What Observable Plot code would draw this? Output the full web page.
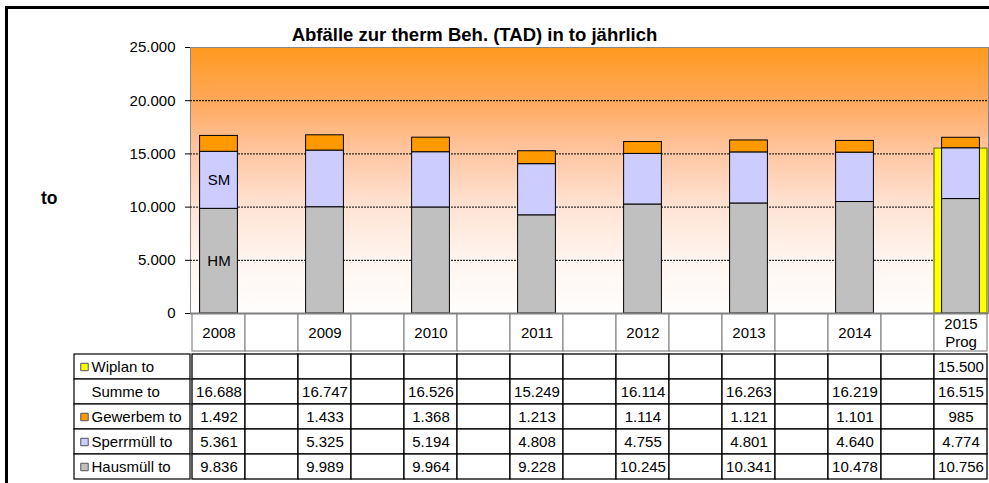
<!DOCTYPE html>
<html>
<head>
<meta charset="utf-8">
<script src="https://cdn.jsdelivr.net/npm/d3@7"></script>
<script src="https://cdn.jsdelivr.net/npm/@observablehq/plot@0.6"></script>
<style>
html, body { margin: 0; padding: 0; width: 989px; height: 483px; overflow: hidden; background: #fff;
  font-family: "Liberation Sans", Arial, Helvetica, sans-serif; }
#wrap { position: relative; width: 989px; height: 483px; overflow: hidden; }
.abs { position: absolute; }
#border { position: absolute; left: 5px; top: 6px; width: 1200px; height: 800px; border: 3px solid #000; z-index: 10; pointer-events: none; }
#title { position: absolute; left: 0; width: 949px; top: 26px; text-align: center; font-weight: bold; font-size: 18.5px; line-height: 18.5px; white-space: nowrap; z-index: 5; }
#ylabel { position: absolute; left: 41px; top: 190px; font-weight: bold; font-size: 17.5px; line-height: 17.5px; z-index: 5; }
</style>
</head>
<body>
<div id="wrap">
  <div id="title">Abfälle zur therm Beh. (TAD) in to jährlich</div>
  <div id="ylabel">to</div>
  <div id="border"></div>
</div>
<script>
// ---- data ----
const years = ["2008", "2009", "2010", "2011", "2012", "2013", "2014", "2015 Prog"];
const gapKeys = ["_1", "_2", "_3", "_4", "_5", "_6", "_7"];
const hausmuell = [9836, 9989, 9964, 9228, 10245, 10341, 10478, 10756];
const sperrmuell = [5361, 5325, 5194, 4808, 4755, 4801, 4640, 4774];
const gewerbem = [1492, 1433, 1368, 1213, 1114, 1121, 1101, 985];
const summe = [16688, 16747, 16526, 15249, 16114, 16263, 16219, 16515];
const wiplan = [null, null, null, null, null, null, null, 15500];
const seriesNames = ["Hausmüll", "Sperrmüll", "Gewerbem"];
const seriesColors = ["#c0c0c0", "#ccccff", "#ff9900"];
const wiplanColor = "#ffff00";
const rowNames = ["Wiplan to", "Summe to", "Gewerbem to", "Sperrmüll to", "Hausmüll to"];
const barLabelNames = ["HM", "SM"];

// ---- derived ----
const categories = [];
years.forEach((y, i) => { categories.push(y); if (i < gapKeys.length) categories.push(gapKeys[i]); });
const headerLabel = d => d.startsWith("_") ? "" : d.replace(" ", "\n");
const de = d3.formatLocale({decimal: ",", thousands: ".", grouping: [3], currency: ["", "€"]});
const fmt = de.format(",d");

const stackRows = [];
years.forEach((y, i) => {
  stackRows.push({cat: y, series: "Hausmüll", value: hausmuell[i]});
  stackRows.push({cat: y, series: "Sperrmüll", value: sperrmuell[i]});
  stackRows.push({cat: y, series: "Gewerbem", value: gewerbem[i]});
});
const wiplanRows = years.map((y, i) => ({cat: y, value: wiplan[i]})).filter(d => d.value != null);
const barLabels = [
  {cat: years[0], label: barLabelNames[0], y: hausmuell[0] / 2},
  {cat: years[0], label: barLabelNames[1], y: hausmuell[0] + sperrmuell[0] / 2}
];
const rowSeries = {
  "Wiplan to": wiplan, "Summe to": summe, "Gewerbem to": gewerbem,
  "Sperrmüll to": sperrmuell, "Hausmüll to": hausmuell
};
const rowColors = {"Wiplan to": wiplanColor, "Gewerbem to": seriesColors[2], "Sperrmüll to": seriesColors[1], "Hausmüll to": seriesColors[0]};
const tableCells = [];
categories.forEach(c => {
  const yi = years.indexOf(c);
  rowNames.forEach(r => tableCells.push({cat: c, row: r, value: yi >= 0 ? rowSeries[r][yi] : null}));
});

const FONT = "'Liberation Sans', Arial, Helvetica, sans-serif";
const wrap = document.getElementById("wrap");
function place(el, left, top, z) {
  el.style.position = "absolute"; el.style.left = left + "px"; el.style.top = top + "px"; el.style.zIndex = z || 1;
  wrap.appendChild(el);
}

// ---- chart ----
const chart = Plot.plot({
  width: 989, height: 314,
  marginLeft: 190, marginRight: 1, marginTop: 47, marginBottom: 1,
  style: {fontFamily: FONT, fontSize: "15px", color: "#000", background: "transparent", overflow: "visible"},
  x: {type: "band", domain: categories, padding: 0, axis: null},
  y: {domain: [0, 25000], ticks: 5, tickFormat: fmt, tickSize: 5, tickPadding: 10, label: null, grid: false},
  color: {domain: seriesNames, range: seriesColors},
  marks: [
    Plot.frame({fill: "url(#bggrad)", stroke: "#888"}),
    Plot.ruleY(d3.ticks(5000, 20000, 3), {stroke: "#000", strokeDasharray: "2,1", strokeWidth: 1}),
    Plot.barY(wiplanRows, {x: "cat", y: "value", fill: wiplanColor, stroke: "#7a7a00", strokeWidth: 1.2}),
    Plot.barY(stackRows, {x: "cat", y: "value", fill: "series", order: seriesNames, stroke: "#000", strokeWidth: 1, insetLeft: 7.6, insetRight: 7.6}),
    Plot.text(barLabels, {x: "cat", y: "y", text: "label", fill: "#000", fontSize: 15}),
    Plot.ruleY([0], {stroke: "#808080", strokeWidth: 2})
  ]
});
const svgSel = d3.select(chart.tagName.toLowerCase() === "svg" ? chart : chart.querySelector("svg"));
const grad = svgSel.insert("defs", ":first-child").append("linearGradient")
  .attr("id", "bggrad").attr("x1", 0).attr("y1", 0).attr("x2", 0).attr("y2", 1);
[[0, "#ff9a1e"], [0.2, "#ffa85c"], [0.4, "#ffc7a4"], [0.6, "#ffe3d4"], [0.8, "#fff5ef"], [1, "#fffefd"]]
  .forEach(([o, c]) => grad.append("stop").attr("offset", o).attr("stop-color", c));
place(chart, 0, 0, 2);

// ---- header row (category axis) ----
const header = Plot.plot({
  width: 989, height: 40,
  marginLeft: 190, marginRight: 1, marginTop: 0, marginBottom: 1,
  style: {fontFamily: FONT, fontSize: "15px", color: "#000", background: "transparent", overflow: "visible"},
  x: {type: "band", domain: categories, padding: 0, axis: null},
  marks: [
    Plot.cell(categories, {x: d => d, fill: "white", stroke: "#8a8a8a", strokeWidth: 1.2}),
    Plot.text(categories, {x: d => d, text: headerLabel, lineHeight: 1.2, fill: "#000", fontSize: 15})
  ]
});
place(header, 0, 312, 1);

// ---- data table: label column ----
const labelCol = Plot.plot({
  width: 190, height: 131,
  marginLeft: 74, marginRight: 0, marginTop: 1, marginBottom: 1,
  style: {fontFamily: FONT, fontSize: "15px", color: "#000", background: "transparent", overflow: "visible"},
  y: {type: "band", domain: rowNames, padding: 0, axis: null},
  color: {type: "identity"},
  marks: [
    Plot.cell(rowNames, {y: d => d, fill: "white", stroke: "#000", strokeWidth: 1.2}),
    Plot.dot(rowNames.filter(r => rowColors[r]), {y: d => d, frameAnchor: "left", dx: 10, symbol: "square", r: 4.2, fill: d => rowColors[d], stroke: "#555", strokeWidth: 1}),
    Plot.text(rowNames, {y: d => d, text: d => d, frameAnchor: "left", dx: 17, textAnchor: "start", fill: "#000", fontSize: 15})
  ]
});
place(labelCol, 0, 351, 3);

// ---- data table: values ----
const valueTable = Plot.plot({
  width: 799, height: 131,
  marginLeft: 0, marginRight: 1, marginTop: 1, marginBottom: 1,
  style: {fontFamily: FONT, fontSize: "15px", color: "#000", background: "transparent", overflow: "visible"},
  x: {type: "band", domain: categories, padding: 0, axis: null},
  y: {type: "band", domain: rowNames, padding: 0, axis: null},
  marks: [
    Plot.cell(tableCells, {x: "cat", y: "row", fill: "white", stroke: "#000", strokeWidth: 1.3}),
    Plot.text(tableCells.filter(d => d.value != null), {x: "cat", y: "row", text: d => fmt(d.value), fill: "#000", fontSize: 15})
  ]
});
place(valueTable, 190, 351, 3);
</script>
</body>
</html>
